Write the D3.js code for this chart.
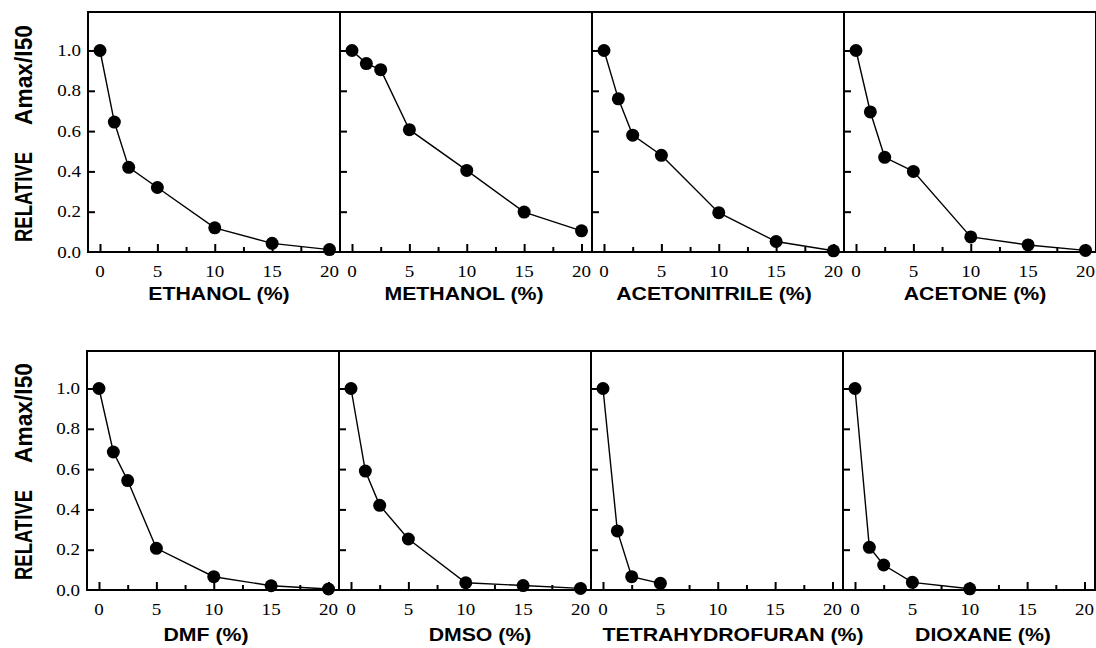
<!DOCTYPE html>
<html><head><meta charset="utf-8">
<script src="https://cdn.jsdelivr.net/npm/d3@7"></script>
<style>
html,body{margin:0;padding:0;background:#fff;} svg{display:block;}
.bold-title{font-family:"Liberation Sans",Arial,sans-serif;font-weight:bold;}
</style>
</head><body>
<svg id="c" width="1096" height="648"></svg>
<script>
// ---- data ----
const concentrations = [0, 1.25, 2.5, 5, 10, 15, 20];
const solvents = ["ETHANOL (%)", "METHANOL (%)", "ACETONITRILE (%)", "ACETONE (%)",
                  "DMF (%)", "DMSO (%)", "TETRAHYDROFURAN (%)", "DIOXANE (%)"];
const ethanol      = [1.0, 0.645, 0.42, 0.32, 0.12, 0.043, 0.012];
const methanol     = [1.0, 0.935, 0.905, 0.607, 0.405, 0.198, 0.105];
const acetonitrile = [1.0, 0.76, 0.58, 0.48, 0.195, 0.052, 0.006];
const acetone      = [1.0, 0.695, 0.47, 0.40, 0.075, 0.035, 0.008];
const dmf          = [1.0, 0.685, 0.543, 0.207, 0.066, 0.021, 0.005];
const dmso         = [1.0, 0.59, 0.42, 0.253, 0.036, 0.022, 0.008];
const thf          = [1.0, 0.293, 0.066, 0.033];
const dioxane      = [1.0, 0.212, 0.124, 0.038, 0.006];
const seriesValues = [ethanol, methanol, acetonitrile, acetone, dmf, dmso, thf, dioxane];
const xTicks = [0, 5, 10, 15, 20];
const xMinorTicks = [2.5, 7.5, 12.5, 17.5];
const yTicks = [0.0, 0.2, 0.4, 0.6, 0.8, 1.0];
const yTitleWords = ["RELATIVE", "Amax/I50"];

// ---- layout ----
const svg = d3.select("#c");
const rows = [
  {top: 12, bottom: 252, lefts: [88, 340, 592, 844], titleY: 300, titleX: [219, 464, 714, 975]},
  {top: 351, bottom: 590, lefts: [87, 339, 591, 843], titleY: 641, titleX: [206, 480, 733, 983]}
];
const panelW = 252;
const tickFont = "Liberation Serif";

rows.forEach((row, ri) => {
  const off = row.bottom - 252;
  const wordPos = [{cy: 197 + off, len: 90}, {cy: 75 + off, len: 100}];
  yTitleWords.forEach((w, wi) => {
    svg.append("text")
      .attr("class", "bold-title")
      .attr("transform", `translate(32,${wordPos[wi].cy}) rotate(-90)`)
      .attr("text-anchor", "middle")
      .attr("textLength", wordPos[wi].len).attr("lengthAdjust", "spacingAndGlyphs")
      .style("font-size", "24px")
      .attr("fill", "#000")
      .text(w);
  });

  row.lefts.forEach((left, ci) => {
    const idx = ri * 4 + ci;
    const x = d3.scaleLinear().domain([0, 20]).range([left + 12, left + 241.5]);
    const y = d3.scaleLinear().domain([0, 1]).range([row.bottom, row.bottom - 201.5]);
    const g = svg.append("g");

    g.append("rect").attr("x", left).attr("y", row.top)
      .attr("width", panelW).attr("height", row.bottom - row.top)
      .attr("fill", "none").attr("stroke", "#000").attr("stroke-width", 2);

    const xAxis = d3.axisBottom(x).tickValues(xTicks).tickSizeInner(-8).tickSizeOuter(0).tickFormat("");
    g.append("g").attr("transform", `translate(0,${row.bottom})`).call(xAxis)
      .call(a => a.select(".domain").remove())
      .call(a => a.selectAll("line").attr("stroke-width", 2));
    const xMinor = d3.axisBottom(x).tickValues(xMinorTicks).tickSizeInner(-5).tickSizeOuter(0).tickFormat("");
    g.append("g").attr("transform", `translate(0,${row.bottom})`).call(xMinor)
      .call(a => a.select(".domain").remove())
      .call(a => a.selectAll("line").attr("stroke-width", 2));

    g.selectAll("text.xl").data(xTicks).enter().append("text")
      .attr("class", "xl")
      .attr("transform", d => `translate(${x(d)},${row.bottom + 25}) scale(1.12,1)`)
      .attr("text-anchor", "middle")
      .attr("font-family", tickFont).attr("font-size", 17)
      .style("font-family", tickFont, "important")
      .attr("fill", "#000")
      .text(d => d);

    const yAxis = d3.axisLeft(y).tickValues(yTicks.slice(1)).tickSizeInner(-7).tickSizeOuter(0).tickFormat("");
    g.append("g").attr("transform", `translate(${left},0)`).call(yAxis)
      .call(a => a.select(".domain").remove())
      .call(a => a.selectAll("line").attr("stroke-width", 2));

    if (ci === 0) {
      g.selectAll("text.yl").data(yTicks).enter().append("text")
        .attr("class", "yl")
        .attr("transform", d => `translate(${left - 7},${y(d) + 5.5}) scale(1.12,1)`)
        .attr("text-anchor", "end")
        .attr("font-family", tickFont).attr("font-size", 17)
        .style("font-family", tickFont, "important")
        .attr("fill", "#000")
        .text(d => d.toFixed(1));
    }

    const vals = seriesValues[idx];
    const pts = vals.map((v, i) => [concentrations[i], v]);
    g.append("path").datum(pts)
      .attr("d", d3.line().x(d => x(d[0])).y(d => y(d[1])))
      .attr("fill", "none").attr("stroke", "#000").attr("stroke-width", 1.4);
    g.selectAll("circle").data(pts).enter().append("circle")
      .attr("cx", d => x(d[0])).attr("cy", d => y(d[1])).attr("r", 6.5)
      .attr("fill", "#000");

    svg.append("text")
      .attr("class", "bold-title")
      .attr("transform", `translate(${row.titleX[ci]},${row.titleY}) scale(1.15,1)`)
      .attr("text-anchor", "middle")
      .style("font-size", "18.5px")
      .attr("fill", "#000")
      .text(solvents[idx]);
  });
});
</script>
</body></html>
